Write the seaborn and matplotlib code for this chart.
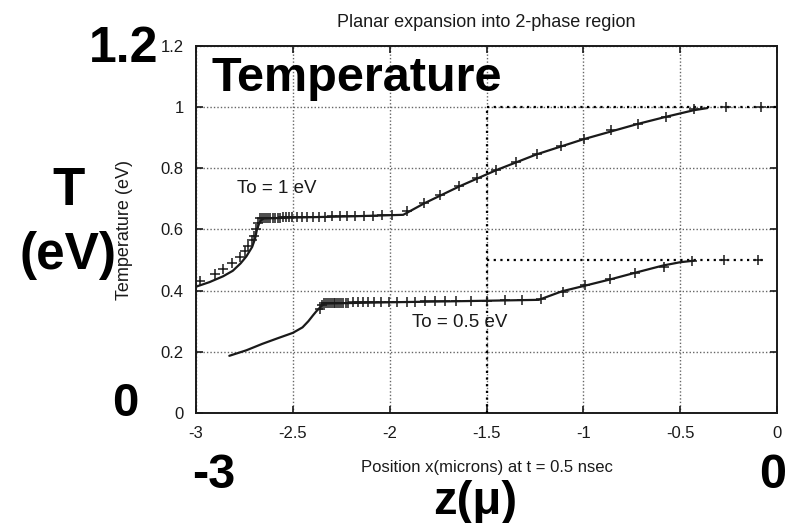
import numpy as np
import pandas as pd
import matplotlib
matplotlib.use("Agg")
import matplotlib.pyplot as plt
import seaborn as sns

# ---------------- data ----------------
# To = 1 eV : solid curve
c1_line_x = [-3.0, -2.93, -2.86, -2.81, -2.77, -2.74, -2.71, -2.695, -2.686, -2.675, -2.665, -2.65,
             -2.5, -2.2, -1.93, -1.82, -1.64, -1.45, -1.24, -1.0, -0.72, -0.57, -0.43, -0.36]
c1_line_y = [0.413, 0.428, 0.447, 0.465, 0.489, 0.512, 0.543, 0.570, 0.598, 0.618, 0.630, 0.636,
             0.639, 0.643, 0.648, 0.686, 0.741, 0.794, 0.846, 0.895, 0.945, 0.969, 0.990, 0.997]
# To = 1 eV : "+" points
c1_pts_x = [-2.979, -2.902, -2.859, -2.815, -2.772, -2.747, -2.729, -2.712, -2.70, -2.69, -2.678,
            -2.668, -2.658, -2.648, -2.638, -2.628, -2.616, -2.604, -2.592, -2.578, -2.564, -2.55,
            -2.535, -2.52, -2.505, -2.479, -2.453, -2.427, -2.396, -2.367, -2.333, -2.298, -2.259,
            -2.22, -2.177, -2.134, -2.086, -2.039, -1.988,
            -1.910, -1.824, -1.738, -1.643, -1.548, -1.453, -1.350, -1.237, -1.117, -0.996, -0.858,
            -0.720, -0.574, -0.427, -0.263, -0.082]
c1_pts_y = [0.43, 0.455, 0.47, 0.49, 0.51, 0.53, 0.545, 0.565, 0.58, 0.60, 0.62,
            0.636, 0.637, 0.637, 0.638, 0.638, 0.638, 0.639, 0.639, 0.639, 0.639, 0.640,
            0.640, 0.640, 0.640, 0.641, 0.641, 0.641, 0.642, 0.642, 0.642, 0.643, 0.643,
            0.644, 0.644, 0.645, 0.645, 0.646, 0.647,
            0.660, 0.688, 0.712, 0.742, 0.769, 0.794, 0.822, 0.847, 0.873, 0.896, 0.924,
            0.946, 0.969, 0.994, 1.0, 1.0]

# To = 0.5 eV : solid curve
c2_line_x = [-2.828, -2.74, -2.658, -2.58, -2.5, -2.45, -2.42, -2.395, -2.378, -2.352, -2.335,
             -2.0, -1.6, -1.23, -1.11, -1.0, -0.86, -0.73, -0.59, -0.5, -0.43]
c2_line_y = [0.187, 0.205, 0.226, 0.244, 0.262, 0.280, 0.300, 0.320, 0.333, 0.350, 0.358,
             0.362, 0.366, 0.370, 0.398, 0.415, 0.437, 0.459, 0.482, 0.493, 0.498]
# To = 0.5 eV : "+" points
c2_pts_x = [-2.36, -2.35, -2.34, -2.33, -2.32, -2.31, -2.30, -2.29, -2.28, -2.27, -2.26, -2.25,
            -2.24, -2.228, -2.216, -2.19, -2.165, -2.139, -2.114, -2.08, -2.046, -2.003, -1.961,
            -1.91, -1.867, -1.816, -1.765, -1.714, -1.655, -1.578, -1.50, -1.405, -1.319, -1.219,
            -1.103, -0.991, -0.862, -0.733, -0.586, -0.44, -0.276, -0.098]
c2_pts_y = [0.340, 0.352, 0.360, 0.360, 0.360, 0.360, 0.360, 0.360, 0.360, 0.361, 0.361, 0.361,
            0.361, 0.361, 0.361, 0.362, 0.362, 0.362, 0.362, 0.363, 0.363, 0.363, 0.364,
            0.364, 0.364, 0.365, 0.365, 0.366, 0.366, 0.367, 0.367, 0.368, 0.368, 0.372,
            0.397, 0.417, 0.438, 0.458, 0.479, 0.497, 0.500, 0.500]

# dotted reference lines
ref_top_x = [-1.5, 0.0]
ref_top_y = [1.0, 1.0]
ref_mid_x = [-1.5, -0.05]
ref_mid_y = [0.5, 0.5]
ref_vert_x = [-1.5, -1.5]
ref_vert_y = [0.0, 1.0]

x_ticks = [-3, -2.5, -2, -1.5, -1, -0.5, 0]
x_tick_labels = ["-3", "-2.5", "-2", "-1.5", "-1", "-0.5", "0"]
y_ticks = [0, 0.2, 0.4, 0.6, 0.8, 1.0, 1.2]
y_tick_labels = ["0", "0.2", "0.4", "0.6", "0.8", "1", "1.2"]

# ---------------- plot ----------------
sns.set_theme(style="white")
plt.rcParams['font.family'] = ['Liberation Sans', 'DejaVu Sans']

W, H = 794, 523
fig = plt.figure(figsize=(W / 100, H / 100), dpi=100)
ax = fig.add_axes([196 / W, 1 - 413 / H, 581 / W, 367 / H])

ink = "#1a1a1a"
sns.lineplot(x=c1_line_x, y=c1_line_y, sort=False, estimator=None, color=ink, lw=1.6, ax=ax)
sns.lineplot(x=c2_line_x, y=c2_line_y, sort=False, estimator=None, color=ink, lw=1.6, ax=ax)
sns.scatterplot(x=c1_pts_x, y=c1_pts_y, marker="+", s=50, color=ink, linewidth=1.1, ax=ax, zorder=4)
sns.scatterplot(x=c2_pts_x, y=c2_pts_y, marker="+", s=50, color=ink, linewidth=1.1, ax=ax, zorder=4)

for rx, ry in [(ref_top_x, ref_top_y), (ref_mid_x, ref_mid_y), (ref_vert_x, ref_vert_y)]:
    ax.plot(rx, ry, color="black", lw=1.6, ls=(0, (1, 2)), zorder=3)

ax.set_xlim(-3, 0)
ax.set_ylim(0, 1.2)
ax.set_xticks(x_ticks)
ax.set_xticklabels(x_tick_labels)
ax.set_yticks(y_ticks)
ax.set_yticklabels(y_tick_labels)
ax.grid(True, color="#666666", lw=1.0, ls=(0, (1, 1.5)))
ax.tick_params(direction="in", length=5, width=1.2, top=True, right=True, bottom=True, left=True,
               labelsize=12, colors=ink)
ax.tick_params(axis="y", pad=9)
ax.tick_params(axis="x", pad=9)
for s in ax.spines.values():
    s.set_color(ink)
    s.set_linewidth(1.4)

ax.set_xlabel("Position x(microns) at t = 0.5 nsec", fontsize=12, color=ink, labelpad=14)
ax.set_ylabel("Temperature (eV)", fontsize=13, color=ink, labelpad=20)
ax.set_title("Planar expansion into 2-phase region", fontsize=13, color=ink, pad=14)

ax.text(-2.79, 0.735, "To = 1 eV", fontsize=13.5, color=ink, va="center", ha="left")
ax.text(-1.884, 0.296, "To = 0.5 eV", fontsize=13.5, color=ink, va="center", ha="left")

# big overlay labels
def ftext(px, py, s, **kw):
    fig.text(px / W, 1 - py / H, s, fontweight="bold", color="black", **kw)

ftext(158, 62, "1.2", fontsize=36, ha="right", va="baseline")
ftext(212, 91, "Temperature", fontsize=35, ha="left", va="baseline")
ftext(69, 205, "T", fontsize=38, ha="center", va="baseline")
ftext(68, 269, "(eV)", fontsize=37, ha="center", va="baseline")
ftext(125, 416, "0", fontsize=34, ha="center", va="baseline")
ftext(214, 488, "-3", fontsize=35, ha="center", va="baseline")
ftext(773, 488, "0", fontsize=35, ha="center", va="baseline")
ftext(475, 514, "z(\u03bc)", fontsize=34, ha="center", va="baseline")

fig.savefig("out.png", dpi=100)
